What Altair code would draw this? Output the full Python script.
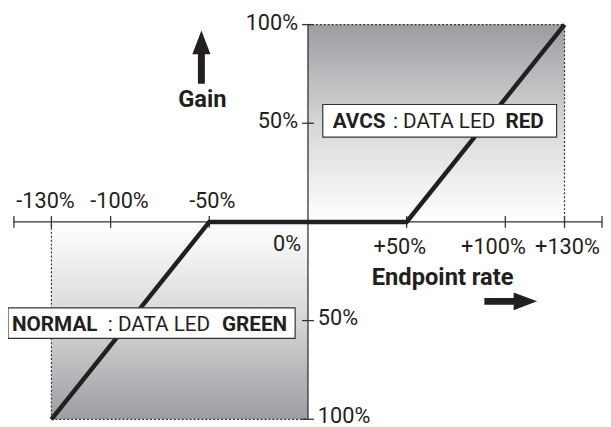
import altair as alt
import pandas as pd

# ---- data -------------------------------------------------------------
endpoint = [-130, -50, 50, 130]          # endpoint rate (%)
gain = [-100, 0, 0, 100]                  # gain (%)

x_ticks = [-149, -130, -100, -50, 50, 100, 130, 149]
x_ticks_neg = [-130, -100, -50]
x_labels_neg = ["-130%", "-100%", "-50%"]
x_ticks_pos = [50, 100, 130]
x_labels_pos = ["+50%", "+100%", "+130%"]
y_ticks = [100, 50, -50, -100]
y_ticks_up = [100, 50]
y_labels_up = ["100%", "50%"]
y_ticks_down = [-50, -100]
y_labels_down = ["50%", "100%"]

x_range = [-149, 149]
y_range = [-100, 100]

# shaded zones: (x, x2, y, y2)
avcs_zone = [0, 130, 0, 100]
normal_zone = [-130, 0, -100, 0]

# label nudges (px), as set in the original artwork
NEG_DX = [-6, 9, 3]
POS_DX = [-7, -12, 3]

INK = "#231f20"
FONT = "Roboto"

xs = alt.Scale(domain=x_range, nice=False, zero=False)
ys = alt.Scale(domain=y_range, nice=False, zero=False)


def X(f):
    return alt.X(f, type="quantitative", scale=xs, axis=None)


def Y(f):
    return alt.Y(f, type="quantitative", scale=ys, axis=None)


def X2(f):
    return alt.X2(f)


def Y2(f):
    return alt.Y2(f)


def zone_df(z):
    return pd.DataFrame({"x": [z[0]], "x2": [z[1]], "y": [z[2]], "y2": [z[3]]})


grad_top = alt.LinearGradient(
    gradient="linear", x1=0, y1=0, x2=0, y2=1,
    stops=[alt.GradientStop(color="#9c9da1", offset=0),
           alt.GradientStop(color="#d6d6d8", offset=0.5),
           alt.GradientStop(color="#ffffff", offset=1)])
grad_bot = alt.LinearGradient(
    gradient="linear", x1=0, y1=0, x2=0, y2=1,
    stops=[alt.GradientStop(color="#ffffff", offset=0),
           alt.GradientStop(color="#d6d6d8", offset=0.5),
           alt.GradientStop(color="#9c9da1", offset=1)])

zone_top = alt.Chart(zone_df(avcs_zone)).mark_rect(fill=grad_top).encode(
    x=X("x"), x2=X2("x2"), y=Y("y"), y2=Y2("y2"))
zone_bot = alt.Chart(zone_df(normal_zone)).mark_rect(fill=grad_bot).encode(
    x=X("x"), x2=X2("x2"), y=Y("y"), y2=Y2("y2"))

# dotted borders of zones
dots = pd.DataFrame({
    "x": [avcs_zone[0], avcs_zone[1], normal_zone[0], normal_zone[0]],
    "x2": [avcs_zone[1], avcs_zone[1], normal_zone[0], normal_zone[1]],
    "y": [avcs_zone[3], avcs_zone[2], normal_zone[2], normal_zone[2]],
    "y2": [avcs_zone[3], avcs_zone[3], normal_zone[3], normal_zone[2]],
})
dotted = alt.Chart(dots).mark_rule(color="#333", strokeWidth=1.2, strokeDash=[2, 2]).encode(
    x=X("x"), x2=X2("x2"), y=Y("y"), y2=Y2("y2"))

# axes
axes_df = pd.DataFrame({
    "x": [x_range[0], 0], "x2": [x_range[1], 0],
    "y": [0, y_range[0]], "y2": [0, y_range[1]],
})
axes = alt.Chart(axes_df).mark_rule(color="#333", strokeWidth=1.3).encode(
    x=X("x"), x2=X2("x2"), y=Y("y"), y2=Y2("y2"))

xt = alt.Chart(pd.DataFrame({"x": x_ticks, "y": [0] * len(x_ticks)})).mark_tick(
    orient="vertical", size=12, thickness=1.3, color="#333", opacity=1).encode(x=X("x"), y=Y("y"))
yt = alt.Chart(pd.DataFrame({"x": [0] * len(y_ticks), "y": y_ticks})).mark_tick(
    orient="horizontal", size=12, thickness=1.3, color="#333", opacity=1).encode(x=X("x"), y=Y("y"))

# gain curve
curve = alt.Chart(pd.DataFrame({"x": endpoint, "y": gain})).mark_line(
    color=INK, strokeWidth=4.5, strokeCap="butt", strokeJoin="miter").encode(
    x=X("x"), y=Y("y"), order="x:Q")

LFS = 22
# tick labels
lab_neg = [
    alt.Chart(pd.DataFrame({"x": [v], "y": [0], "t": [t]})).mark_text(
        font=FONT, fontSize=LFS, color=INK, baseline="alphabetic", dy=-14, dx=d).encode(
        x=X("x"), y=Y("y"), text="t:N")
    for v, t, d in zip(x_ticks_neg, x_labels_neg, NEG_DX)
]
lab_pos = [
    alt.Chart(pd.DataFrame({"x": [v], "y": [0], "t": [t]})).mark_text(
        font=FONT, fontSize=LFS, color=INK, baseline="alphabetic", dy=32, dx=d).encode(
        x=X("x"), y=Y("y"), text="t:N")
    for v, t, d in zip(x_ticks_pos, x_labels_pos, POS_DX)
]
lab_zero = alt.Chart(pd.DataFrame({"x": [0], "y": [0], "t": ["0%"]})).mark_text(
    font=FONT, fontSize=LFS, color=INK, baseline="alphabetic", align="right", dx=-7, dy=29).encode(
    x=X("x"), y=Y("y"), text="t:N")
lab_up = alt.Chart(pd.DataFrame({"x": [0, 0], "y": y_ticks_up, "t": y_labels_up})).mark_text(
    font=FONT, fontSize=LFS, color=INK, baseline="middle", align="right", dx=-10, dy=-2).encode(
    x=X("x"), y=Y("y"), text="t:N")
lab_down = alt.Chart(pd.DataFrame({"x": [0, 0], "y": y_ticks_down, "t": y_labels_down})).mark_text(
    font=FONT, fontSize=LFS, color=INK, baseline="middle", align="left", dx=10, dy=-3).encode(
    x=X("x"), y=Y("y"), text="t:N")

# axis titles
titles = alt.Chart(pd.DataFrame({"x": [-53.5, 68.25], "y": [58, -32], "t": ["Gain", "Endpoint rate"]})).mark_text(
    font=FONT, fontSize=24, fontWeight="bold", color=INK, baseline="alphabetic").encode(
    x=X("x"), y=Y("y"), text="t:N")

ARROW = "M0,-1L0.34,-0.11L0.13,-0.11L0.13,1L-0.13,1L-0.13,-0.11L-0.34,-0.11Z"
arrow_up = alt.Chart(pd.DataFrame({"x": [-54], "y": [83.5]})).mark_point(
    shape=ARROW, size=2916, filled=True, color=INK, opacity=1, strokeWidth=0).encode(
    x=X("x"), y=Y("y"))
arrow_right = alt.Chart(pd.DataFrame({"x": [102.75], "y": [-40.25]})).mark_point(
    shape=ARROW, size=2860, angle=90, filled=True, color=INK, opacity=1, strokeWidth=0).encode(
    x=X("x"), y=Y("y"))

# mode boxes
boxes = alt.Chart(pd.DataFrame({
    "x": [7.5, -152], "x2": [126, -6.5], "y": [43, -59], "y2": [59.5, -43.5]})).mark_rect(
    fill="white", stroke="#333", strokeWidth=1.2).encode(
    x=X("x"), x2=X2("x2"), y=Y("y"), y2=Y2("y2"))

BFS = 21
bold_left = alt.Chart(pd.DataFrame({"x": [12.5, -150], "y": [47.5, -55.5], "t": ["AVCS", "NORMAL"]})).mark_text(
    font=FONT, fontSize=BFS, fontWeight="bold", color=INK, baseline="alphabetic", align="left").encode(
    x=X("x"), y=Y("y"), text="t:N")
mid_text = alt.Chart(pd.DataFrame({"x": [69, -75.5], "y": [47.5, -55.5], "t": [": DATA LED", ":  DATA LED"]})).mark_text(
    font=FONT, fontSize=BFS, color=INK, baseline="alphabetic", align="center").encode(
    x=X("x"), y=Y("y"), text="t:N")
bold_right = alt.Chart(pd.DataFrame({"x": [119.5, -10.5], "y": [47.5, -55.5], "t": ["RED", "GREEN"]})).mark_text(
    font=FONT, fontSize=BFS, fontWeight="bold", color=INK, baseline="alphabetic", align="right").encode(
    x=X("x"), y=Y("y"), text="t:N")

chart = alt.layer(
    zone_top, zone_bot, dotted, axes, xt, yt, curve,
    *lab_neg, *lab_pos, lab_zero, lab_up, lab_down, titles, arrow_up, arrow_right,
    boxes, bold_left, mid_text, bold_right,
).properties(
    width=596, height=400,
    autosize=alt.AutoSizeParams(type="none"),
    padding={"left": 6, "top": 14, "right": 1, "bottom": 5},
).configure_view(stroke=None)

chart.save("out.html", embed_options={"renderer": "svg", "actions": False})
